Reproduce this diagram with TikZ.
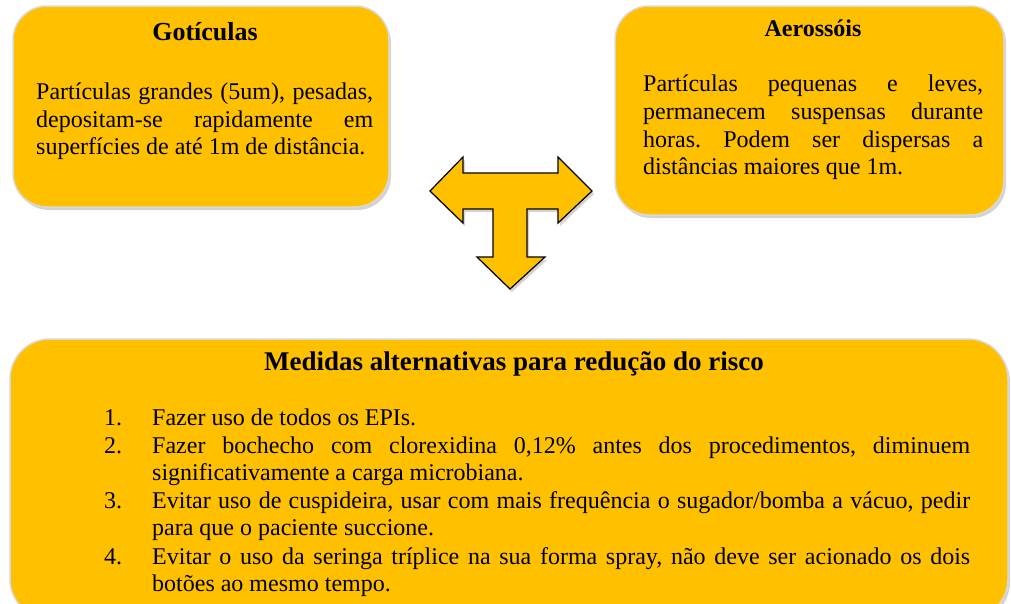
\documentclass[tikz,border=0pt]{standalone}
\usepackage{fontspec}
\setmainfont{Liberation Serif}
\usetikzlibrary{shadows}
\definecolor{ouro}{HTML}{FFC000}
\definecolor{borda}{HTML}{D9D9D9}
\tolerance=10000
\hbadness=10000
\hyphenpenalty=10000
\frenchspacing

\begin{document}
\begin{tikzpicture}[x=1pt,y=-1pt,
    caixa/.style={draw=borda,line width=1.5pt,fill=ouro,rounded corners=34pt,
      drop shadow={shadow xshift=2pt,shadow yshift=-3pt,opacity=.35}},
    titulo/.style={inner sep=0pt,anchor=base},
    texto/.style={font=\fontsize{24}{27.7}\selectfont,inner sep=0pt,align=justify,anchor=base west},
    seta/.style={draw=black,line width=1.2pt,fill=ouro,line join=miter,
      drop shadow={shadow xshift=2pt,shadow yshift=-3pt,opacity=.35}}]
  \useasboundingbox (0,0) rectangle (1011,603);

  % caixas
  \node[caixa,minimum width=376pt,minimum height=201pt] (got) at (201,106.5) {};
  \node[caixa,minimum width=389pt,minimum height=209pt] (aer) at (809.5,110.5) {};
  \node[caixa,minimum width=998pt,minimum height=280pt,rounded corners=40pt] (med) at (509,479) {};

  % seta em T
  \draw[seta] (430,191) -- (463,157) -- (463,173) -- (558,173) -- (558,157) -- (592,191)
    -- (558,223) -- (558,209) -- (527,209) -- (527,257) -- (545,257) -- (510,289)
    -- (477,257) -- (493,257) -- (493,209) -- (463,209) -- (463,223) -- cycle;

  % textos
  \node[titulo,font=\fontsize{26}{30}\selectfont\bfseries] (gottit) at (205,40.7) {Gotículas};
  \node[texto,text width=337pt] (gottxt) at (36,99.5)
    {Partículas grandes (5um), pesadas,\linebreak depositam-se rapidamente em\linebreak
     superfícies de até 1m de distância.};

  \node[titulo,font=\fontsize{24}{28}\selectfont\bfseries] (aertit) at (813,36.7) {Aerossóis};
  \node[texto,text width=340pt] (aertxt) at (643,91.7)
    {Partículas pequenas e leves,\linebreak permanecem suspensas durante\linebreak
     horas. Podem ser dispersas a\linebreak distâncias maiores que 1m.};

  \node[titulo,font=\fontsize{27}{31}\selectfont\bfseries] (medtit) at (514,370)
    {Medidas alternativas para redução do risco};
  \node[texto,font=\fontsize{24}{27.2}\selectfont,text width=866pt] (medlst) at (104,425)
    {\parskip=1pt
     \hangindent=48pt\hangafter=1\makebox[48pt][l]{1.}Fazer uso de todos os EPIs.\par
     \hangindent=48pt\hangafter=1\makebox[48pt][l]{2.}Fazer bochecho com clorexidina 0,12\% antes dos procedimentos, diminuem\linebreak
       significativamente a carga microbiana.\par
     \hangindent=48pt\hangafter=1\makebox[48pt][l]{3.}Evitar uso de cuspideira, usar com mais frequência o sugador/bomba a vácuo, pedir\linebreak
       para que o paciente succione.\par
     \hangindent=48pt\hangafter=1\makebox[48pt][l]{4.}Evitar o uso da seringa tríplice na sua forma spray, não deve ser acionado os dois\linebreak
       botões ao mesmo tempo.\par};
\end{tikzpicture}
\end{document}
